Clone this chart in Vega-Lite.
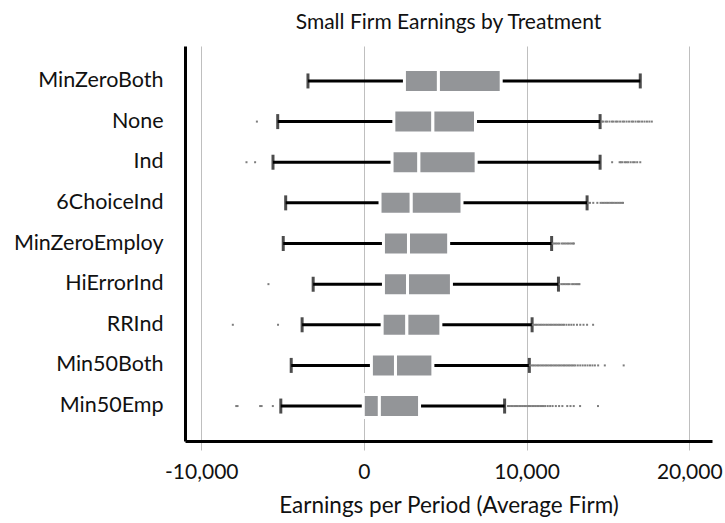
{
  "$schema": "https://vega.github.io/schema/vega-lite/v6.json",
  "width": 527,
  "height": 395,
  "autosize": {"type": "none"},
  "padding": {"left": 185, "top": 46, "right": 13, "bottom": 82},
  "title": {"text": "Small Firm Earnings by Treatment", "font": "Lato", "fontSize": 21, "fontWeight": "normal", "color": "#111111", "offset": 13, "anchor": "middle"},
  "datasets": {
    "boxes": [
      {"t": "MinZeroBoth", "lo": -3440, "q1": 2490, "med": 4580, "q3": 8440, "hi": 16990},
      {"t": "None", "lo": -5300, "q1": 1840, "med": 4240, "q3": 6860, "hi": 14520},
      {"t": "Ind", "lo": -5590, "q1": 1730, "med": 3380, "q3": 6900, "hi": 14520},
      {"t": "6ChoiceInd", "lo": -4810, "q1": 990, "med": 2910, "q3": 6030, "hi": 13720},
      {"t": "MinZeroEmploy", "lo": -4960, "q1": 1200, "med": 2740, "q3": 5210, "hi": 11540},
      {"t": "HiErrorInd", "lo": -3120, "q1": 1200, "med": 2680, "q3": 5380, "hi": 11960},
      {"t": "RRInd", "lo": -3800, "q1": 1120, "med": 2640, "q3": 4730, "hi": 10340},
      {"t": "Min50Both", "lo": -4470, "q1": 460, "med": 1940, "q3": 4240, "hi": 10170},
      {"t": "Min50Emp", "lo": -5110, "q1": -40, "med": 950, "q3": 3420, "hi": 8650}
    ],
    "outliers": [
      {"t": "None", "v": -6580},
      {"t": "None", "v": 14620}, {"t": "None", "v": 14700}, {"t": "None", "v": 14850}, {"t": "None", "v": 14950}, {"t": "None", "v": 15100}, {"t": "None", "v": 15250}, {"t": "None", "v": 15350}, {"t": "None", "v": 15500}, {"t": "None", "v": 15600}, {"t": "None", "v": 15750}, {"t": "None", "v": 15900}, {"t": "None", "v": 16000}, {"t": "None", "v": 16150}, {"t": "None", "v": 16300}, {"t": "None", "v": 16450}, {"t": "None", "v": 16550}, {"t": "None", "v": 16700}, {"t": "None", "v": 16850}, {"t": "None", "v": 16950}, {"t": "None", "v": 17100}, {"t": "None", "v": 17250}, {"t": "None", "v": 17400}, {"t": "None", "v": 17550}, {"t": "None", "v": 17700},
      {"t": "Ind", "v": -7220}, {"t": "Ind", "v": -6690}, {"t": "Ind", "v": 15260},
      {"t": "Ind", "v": 15720}, {"t": "Ind", "v": 15800}, {"t": "Ind", "v": 15900}, {"t": "Ind", "v": 16050}, {"t": "Ind", "v": 16150}, {"t": "Ind", "v": 16250}, {"t": "Ind", "v": 16400}, {"t": "Ind", "v": 16550}, {"t": "Ind", "v": 16650}, {"t": "Ind", "v": 16800}, {"t": "Ind", "v": 16990},
      {"t": "6ChoiceInd", "v": 13800}, {"t": "6ChoiceInd", "v": 13900}, {"t": "6ChoiceInd", "v": 14100}, {"t": "6ChoiceInd", "v": 14350}, {"t": "6ChoiceInd", "v": 14550}, {"t": "6ChoiceInd", "v": 14650}, {"t": "6ChoiceInd", "v": 14750}, {"t": "6ChoiceInd", "v": 14850}, {"t": "6ChoiceInd", "v": 14950}, {"t": "6ChoiceInd", "v": 15050}, {"t": "6ChoiceInd", "v": 15150}, {"t": "6ChoiceInd", "v": 15250}, {"t": "6ChoiceInd", "v": 15350}, {"t": "6ChoiceInd", "v": 15450}, {"t": "6ChoiceInd", "v": 15550}, {"t": "6ChoiceInd", "v": 15650}, {"t": "6ChoiceInd", "v": 15750}, {"t": "6ChoiceInd", "v": 15850}, {"t": "6ChoiceInd", "v": 15930},
      {"t": "MinZeroEmploy", "v": 11600}, {"t": "MinZeroEmploy", "v": 11700}, {"t": "MinZeroEmploy", "v": 11800}, {"t": "MinZeroEmploy", "v": 11900}, {"t": "MinZeroEmploy", "v": 12000}, {"t": "MinZeroEmploy", "v": 12150}, {"t": "MinZeroEmploy", "v": 12250}, {"t": "MinZeroEmploy", "v": 12350}, {"t": "MinZeroEmploy", "v": 12450}, {"t": "MinZeroEmploy", "v": 12550}, {"t": "MinZeroEmploy", "v": 12650}, {"t": "MinZeroEmploy", "v": 12750}, {"t": "MinZeroEmploy", "v": 12850}, {"t": "MinZeroEmploy", "v": 12910},
      {"t": "HiErrorInd", "v": -5870},
      {"t": "HiErrorInd", "v": 12030}, {"t": "HiErrorInd", "v": 12150}, {"t": "HiErrorInd", "v": 12250}, {"t": "HiErrorInd", "v": 12350}, {"t": "HiErrorInd", "v": 12450}, {"t": "HiErrorInd", "v": 12550}, {"t": "HiErrorInd", "v": 12650}, {"t": "HiErrorInd", "v": 12800}, {"t": "HiErrorInd", "v": 12900}, {"t": "HiErrorInd", "v": 13000}, {"t": "HiErrorInd", "v": 13100}, {"t": "HiErrorInd", "v": 13200}, {"t": "HiErrorInd", "v": 13250},
      {"t": "RRInd", "v": -8060}, {"t": "RRInd", "v": -5280},
      {"t": "RRInd", "v": 10380}, {"t": "RRInd", "v": 10480}, {"t": "RRInd", "v": 10580}, {"t": "RRInd", "v": 10680}, {"t": "RRInd", "v": 10780}, {"t": "RRInd", "v": 10880}, {"t": "RRInd", "v": 10980}, {"t": "RRInd", "v": 11080}, {"t": "RRInd", "v": 11200}, {"t": "RRInd", "v": 11300}, {"t": "RRInd", "v": 11400}, {"t": "RRInd", "v": 11500}, {"t": "RRInd", "v": 11600}, {"t": "RRInd", "v": 11700}, {"t": "RRInd", "v": 11800}, {"t": "RRInd", "v": 11900}, {"t": "RRInd", "v": 12000}, {"t": "RRInd", "v": 12100}, {"t": "RRInd", "v": 12200}, {"t": "RRInd", "v": 12300}, {"t": "RRInd", "v": 12450}, {"t": "RRInd", "v": 12600}, {"t": "RRInd", "v": 12750}, {"t": "RRInd", "v": 12900}, {"t": "RRInd", "v": 13100}, {"t": "RRInd", "v": 13300}, {"t": "RRInd", "v": 13500}, {"t": "RRInd", "v": 13720}, {"t": "RRInd", "v": 14090},
      {"t": "Min50Both", "v": 10200}, {"t": "Min50Both", "v": 10300}, {"t": "Min50Both", "v": 10400}, {"t": "Min50Both", "v": 10500}, {"t": "Min50Both", "v": 10600}, {"t": "Min50Both", "v": 10700}, {"t": "Min50Both", "v": 10800}, {"t": "Min50Both", "v": 10900}, {"t": "Min50Both", "v": 11000}, {"t": "Min50Both", "v": 11100}, {"t": "Min50Both", "v": 11200}, {"t": "Min50Both", "v": 11300}, {"t": "Min50Both", "v": 11400}, {"t": "Min50Both", "v": 11500}, {"t": "Min50Both", "v": 11600}, {"t": "Min50Both", "v": 11700}, {"t": "Min50Both", "v": 11800}, {"t": "Min50Both", "v": 11900}, {"t": "Min50Both", "v": 12000}, {"t": "Min50Both", "v": 12100}, {"t": "Min50Both", "v": 12200}, {"t": "Min50Both", "v": 12300}, {"t": "Min50Both", "v": 12400}, {"t": "Min50Both", "v": 12500}, {"t": "Min50Both", "v": 12600}, {"t": "Min50Both", "v": 12700}, {"t": "Min50Both", "v": 12800}, {"t": "Min50Both", "v": 12900}, {"t": "Min50Both", "v": 13000}, {"t": "Min50Both", "v": 13150}, {"t": "Min50Both", "v": 13300}, {"t": "Min50Both", "v": 13450}, {"t": "Min50Both", "v": 13600}, {"t": "Min50Both", "v": 13750}, {"t": "Min50Both", "v": 13900}, {"t": "Min50Both", "v": 14050}, {"t": "Min50Both", "v": 14200}, {"t": "Min50Both", "v": 14400}, {"t": "Min50Both", "v": 14810}, {"t": "Min50Both", "v": 15970},
      {"t": "Min50Emp", "v": -7850}, {"t": "Min50Emp", "v": -7770}, {"t": "Min50Emp", "v": -6380}, {"t": "Min50Emp", "v": -6290}, {"t": "Min50Emp", "v": -5600},
      {"t": "Min50Emp", "v": 8860}, {"t": "Min50Emp", "v": 8950}, {"t": "Min50Emp", "v": 9050}, {"t": "Min50Emp", "v": 9150}, {"t": "Min50Emp", "v": 9250}, {"t": "Min50Emp", "v": 9350}, {"t": "Min50Emp", "v": 9450}, {"t": "Min50Emp", "v": 9550}, {"t": "Min50Emp", "v": 9650}, {"t": "Min50Emp", "v": 9750}, {"t": "Min50Emp", "v": 9850}, {"t": "Min50Emp", "v": 9950}, {"t": "Min50Emp", "v": 10050}, {"t": "Min50Emp", "v": 10150}, {"t": "Min50Emp", "v": 10250}, {"t": "Min50Emp", "v": 10350}, {"t": "Min50Emp", "v": 10450}, {"t": "Min50Emp", "v": 10550}, {"t": "Min50Emp", "v": 10650}, {"t": "Min50Emp", "v": 10750}, {"t": "Min50Emp", "v": 10850}, {"t": "Min50Emp", "v": 10950}, {"t": "Min50Emp", "v": 11050}, {"t": "Min50Emp", "v": 11150}, {"t": "Min50Emp", "v": 11300}, {"t": "Min50Emp", "v": 11450}, {"t": "Min50Emp", "v": 11600}, {"t": "Min50Emp", "v": 11800}, {"t": "Min50Emp", "v": 12000}, {"t": "Min50Emp", "v": 12200}, {"t": "Min50Emp", "v": 12500}, {"t": "Min50Emp", "v": 12700}, {"t": "Min50Emp", "v": 12900}, {"t": "Min50Emp", "v": 13290}, {"t": "Min50Emp", "v": 14390}
    ]
  },
  "encoding": {
    "y": {
      "field": "t",
      "type": "nominal",
      "scale": {"domain": ["MinZeroBoth", "None", "Ind", "6ChoiceInd", "MinZeroEmploy", "HiErrorInd", "RRInd", "Min50Both", "Min50Emp"], "paddingInner": 0, "paddingOuter": 0.36},
      "axis": {"title": null}
    }
  },
  "layer": [
    {
      "data": {"name": "boxes"},
      "mark": {"type": "rule", "color": "#000000", "strokeWidth": 3},
      "encoding": {
        "x": {"field": "lo", "type": "quantitative", "title": "Earnings per Period (Average Firm)", "scale": {"domain": [-11000, 21400], "nice": false, "zero": false}, "axis": {"values": [-10000, 0, 10000, 20000], "labelExpr": "replace(format(datum.value, ',.0f'), '\u2212', '-')"}},
        "x2": {"field": "hi"}
      }
    },
    {
      "data": {"name": "boxes"},
      "mark": {"type": "tick", "color": "#000000", "thickness": 3, "size": 15},
      "encoding": {"x": {"field": "lo", "type": "quantitative", "title": "Earnings per Period (Average Firm)", "axis": {"values": [-10000, 0, 10000, 20000], "labelExpr": "replace(format(datum.value, ',.0f'), '\u2212', '-')"}}}
    },
    {
      "data": {"name": "boxes"},
      "mark": {"type": "tick", "color": "#000000", "thickness": 3, "size": 15},
      "encoding": {"x": {"field": "hi", "type": "quantitative", "title": "Earnings per Period (Average Firm)", "axis": {"values": [-10000, 0, 10000, 20000], "labelExpr": "replace(format(datum.value, ',.0f'), '\u2212', '-')"}}}
    },
    {
      "data": {"name": "boxes"},
      "mark": {"type": "bar", "height": 23, "fill": "#939598", "stroke": "#ffffff", "strokeWidth": 3},
      "encoding": {"x": {"field": "q1", "type": "quantitative", "title": "Earnings per Period (Average Firm)", "axis": {"values": [-10000, 0, 10000, 20000], "labelExpr": "replace(format(datum.value, ',.0f'), '\u2212', '-')"}}, "x2": {"field": "med"}}
    },
    {
      "data": {"name": "boxes"},
      "mark": {"type": "bar", "height": 23, "fill": "#939598", "stroke": "#ffffff", "strokeWidth": 3},
      "encoding": {"x": {"field": "med", "type": "quantitative", "title": "Earnings per Period (Average Firm)", "axis": {"values": [-10000, 0, 10000, 20000], "labelExpr": "replace(format(datum.value, ',.0f'), '\u2212', '-')"}}, "x2": {"field": "q3"}}
    },
    {
      "data": {"name": "outliers"},
      "mark": {"type": "square", "size": 4, "color": "#7d7d7d", "opacity": 1},
      "encoding": {"x": {"field": "v", "type": "quantitative", "title": "Earnings per Period (Average Firm)", "axis": {"values": [-10000, 0, 10000, 20000], "labelExpr": "replace(format(datum.value, ',.0f'), '\u2212', '-')"}}}
    }
  ],
  "config": {
    "view": {"stroke": null},
    "font": "Lato",
    "axisX": {
      "grid": true, "gridColor": "#bfbfbf", "gridWidth": 1,
      "domainColor": "#000000", "domainWidth": 3,
      "ticks": true, "tickColor": "#bfbfbf", "tickSize": 9, "tickWidth": 1,
      "labelFont": "Lato", "labelFontSize": 21, "labelColor": "#111111", "labelPadding": 11,
      "titleFont": "Lato", "titleFontSize": 22.5, "titleFontWeight": "normal", "titleColor": "#111111", "titlePadding": 12
    },
    "axisY": {
      "grid": false, "ticks": false,
      "domainColor": "#000000", "domainWidth": 3,
      "labelFont": "Lato", "labelFontSize": 21.5, "labelColor": "#111111", "labelPadding": 22
    }
  }
}
